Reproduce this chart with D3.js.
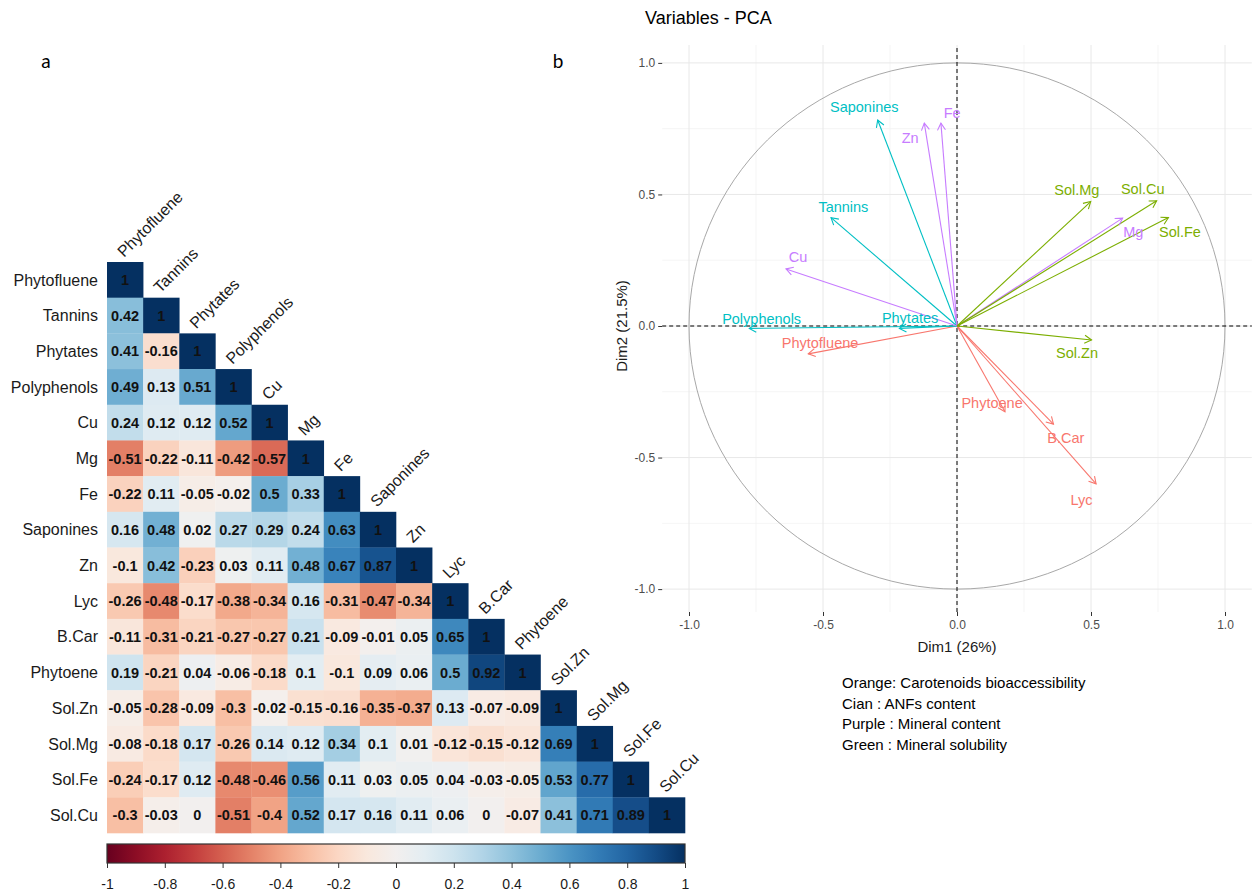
<!DOCTYPE html>
<meta charset="utf-8">
<style>
    body {
        margin: 0;
        background: #fff;
    }

    text {
        font-family: "Liberation Sans", Arial, sans-serif;
    }

    .grid-major {
        stroke: #e8e8e8;
        stroke-width: 1;
    }

    .grid-minor {
        stroke: #f2f2f2;
        stroke-width: 0.8;
    }
</style>

<body>
    <script src="https://d3js.org/d3.v7.min.js"></script>
    <script>
        // --- panel a: correlation matrix (lower triangle) ---
        var variables = ["Phytofluene", "Tannins", "Phytates", "Polyphenols", "Cu", "Mg", "Fe", "Saponines",
            "Zn", "Lyc", "B.Car", "Phytoene", "Sol.Zn", "Sol.Mg", "Sol.Fe", "Sol.Cu"];

        var corrRows = [
            [1],
            [0.42, 1],
            [0.41, -0.16, 1],
            [0.49, 0.13, 0.51, 1],
            [0.24, 0.12, 0.12, 0.52, 1],
            [-0.51, -0.22, -0.11, -0.42, -0.57, 1],
            [-0.22, 0.11, -0.05, -0.02, 0.5, 0.33, 1],
            [0.16, 0.48, 0.02, 0.27, 0.29, 0.24, 0.63, 1],
            [-0.1, 0.42, -0.23, 0.03, 0.11, 0.48, 0.67, 0.87, 1],
            [-0.26, -0.48, -0.17, -0.38, -0.34, 0.16, -0.31, -0.47, -0.34, 1],
            [-0.11, -0.31, -0.21, -0.27, -0.27, 0.21, -0.09, -0.01, 0.05, 0.65, 1],
            [0.19, -0.21, 0.04, -0.06, -0.18, 0.1, -0.1, 0.09, 0.06, 0.5, 0.92, 1],
            [-0.05, -0.28, -0.09, -0.3, -0.02, -0.15, -0.16, -0.35, -0.37, 0.13, -0.07, -0.09, 1],
            [-0.08, -0.18, 0.17, -0.26, 0.14, 0.12, 0.34, 0.1, 0.01, -0.12, -0.15, -0.12, 0.69, 1],
            [-0.24, -0.17, 0.12, -0.48, -0.46, 0.56, 0.11, 0.03, 0.05, 0.04, -0.03, -0.05, 0.53, 0.77, 1],
            [-0.3, -0.03, 0, -0.51, -0.4, 0.52, 0.17, 0.16, 0.11, 0.06, 0, -0.07, 0.41, 0.71, 0.89, 1]
        ];

        var colorbarTicks = [-1, -0.8, -0.6, -0.4, -0.2, 0, 0.2, 0.4, 0.6, 0.8, 1];

        // --- panel b: PCA variables ---
        var pcaVars = ["Phytofluene", "Lyc", "B.Car", "Phytoene",
            "Tannins", "Phytates", "Polyphenols", "Saponines",
            "Cu", "Mg", "Fe", "Zn",
            "Sol.Zn", "Sol.Mg", "Sol.Fe", "Sol.Cu"];
        var pcaGroup = [0, 0, 0, 0, 1, 1, 1, 1, 2, 2, 2, 2, 3, 3, 3, 3];
        var dim1 = [-0.555, 0.519, 0.36, 0.179,
            -0.47, -0.215, -0.775, -0.296,
            -0.638, 0.618, -0.06, -0.122,
            0.502, 0.499, 0.789, 0.745];
        var dim2 = [-0.106, -0.60, -0.373, -0.326,
            0.412, -0.009, -0.009, 0.783,
            0.217, 0.41, 0.771, 0.771,
            -0.053, 0.473, 0.412, 0.476];
        // repelled label positions, in Dim units
        var labelDim1 = [-0.511, 0.465, 0.406, 0.131,
            -0.424, -0.175, -0.729, -0.346,
            -0.593, 0.658, -0.018, -0.175,
            0.448, 0.447, 0.832, 0.693];
        var labelDim2 = [-0.065, -0.662, -0.425, -0.293,
            0.454, 0.032, 0.029, 0.832,
            0.262, 0.357, 0.811, 0.716,
            -0.103, 0.517, 0.359, 0.521];
        var groupColors = ["#F8766D", "#00BFC4", "#C77CFF", "#7CAE00"];
        var pcaTicks = [-1, -0.5, 0, 0.5, 1];

        var legendLines = ["Orange: Carotenoids bioaccessibility", "Cian : ANFs content",
            "Purple : Mineral content", "Green : Mineral solubility"];

        var width = 1257,
            height = 896

        var svg = d3.select("body").append("svg")
            .attr("width", width)
            .attr("height", height);

        var corrColor = function (v) {
            return d3.interpolateRdBu((v + 1) / 2);
        }

        // panel letters
        svg.append("text").attr("x", 46).attr("y", 68)
            .style("font-family", "Lato, 'Open Sans', sans-serif").style("font-size", "19px")
            .attr("text-anchor", "middle").text("a");
        svg.append("text").attr("x", 558).attr("y", 68)
            .style("font-family", "Lato, 'Open Sans', sans-serif").style("font-size", "19px")
            .attr("text-anchor", "middle").text("b");

        // ---------- heatmap ----------
        var xBand = d3.scaleBand().domain(variables).range([107, 685]);
        var yBand = d3.scaleBand().domain(variables).range([262, 833]);

        var cells = [];
        corrRows.forEach(function (row, i) {
            row.forEach(function (v, j) {
                cells.push({ row: variables[i], col: variables[j], value: v });
            });
        });

        var heat = svg.append("g");

        heat.selectAll(".cell")
            .data(cells)
            .enter().append("rect")
            .attr("class", "cell")
            .attr("x", function (d) { return xBand(d.col); })
            .attr("y", function (d) { return yBand(d.row); })
            .attr("width", xBand.bandwidth() + 0.3)
            .attr("height", yBand.bandwidth() + 0.3)
            .attr("fill", function (d) { return corrColor(d.value); });

        heat.selectAll(".val")
            .data(cells)
            .enter().append("text")
            .attr("class", "val")
            .attr("x", function (d) { return xBand(d.col) + xBand.bandwidth() / 2; })
            .attr("y", function (d) { return yBand(d.row) + yBand.bandwidth() / 2; })
            .attr("dy", "0.36em")
            .attr("text-anchor", "middle")
            .style("font-size", "14.5px")
            .style("font-weight", "bold")
            .style("fill", "#111")
            .text(function (d) { return String(d.value); });

        heat.selectAll(".rowlab")
            .data(variables)
            .enter().append("text")
            .attr("class", "rowlab")
            .attr("x", 98)
            .attr("y", function (d) { return yBand(d) + yBand.bandwidth() / 2; })
            .attr("dy", "0.36em")
            .attr("text-anchor", "end")
            .style("font-size", "16px")
            .style("fill", "#1a1a1a")
            .text(function (d) { return d; });

        heat.selectAll(".collab")
            .data(variables)
            .enter().append("text")
            .attr("class", "collab")
            .attr("transform", function (d) {
                return "translate(" + (xBand(d) + xBand.bandwidth() / 2 - 1) + "," + (yBand(d) - 4) + ") rotate(-45)";
            })
            .style("font-size", "16px")
            .style("fill", "#1a1a1a")
            .text(function (d) { return d; });

        // colour bar
        var cb = d3.scaleLinear().domain([-1, 1]).range([107, 685]);
        var grad = svg.append("defs").append("linearGradient")
            .attr("id", "rdbu").attr("x1", "0%").attr("x2", "100%");
        d3.range(0, 1.0001, 0.05).forEach(function (t) {
            grad.append("stop").attr("offset", (t * 100) + "%").attr("stop-color", d3.interpolateRdBu(t));
        });
        svg.append("rect")
            .attr("x", cb(-1)).attr("y", 844)
            .attr("width", cb(1) - cb(-1)).attr("height", 19)
            .attr("fill", "url(#rdbu)")
            .attr("stroke", "#333").attr("stroke-width", 1.2);

        var cbAxis = svg.append("g")
            .attr("transform", "translate(0,863)")
            .call(d3.axisBottom(cb).tickValues(colorbarTicks).tickSize(5).tickPadding(11)
                .tickFormat(function (d) { return String(+d.toFixed(1)); }));
        cbAxis.select(".domain").remove();
        cbAxis.selectAll("line").attr("stroke", "#333");
        cbAxis.selectAll("text")
            .style("font-family", "'Liberation Sans', Arial, sans-serif")
            .style("font-size", "14px").style("fill", "#1a1a1a");

        // ---------- PCA variables plot ----------
        var x = d3.scaleLinear().domain([-1.1, 1.1]).range([662.2, 1251.8]);
        var y = d3.scaleLinear().domain([-1.087, 1.068]).range([612, 45]);
        var minorTicks = d3.pairs(pcaTicks).map(function (p) { return (p[0] + p[1]) / 2; });

        var pca = svg.append("g");

        pca.selectAll(".vminor").data(minorTicks).enter().append("line")
            .attr("class", "grid-minor")
            .attr("x1", function (d) { return x(d); }).attr("x2", function (d) { return x(d); })
            .attr("y1", y.range()[0]).attr("y2", y.range()[1]);
        pca.selectAll(".hminor").data(minorTicks).enter().append("line")
            .attr("class", "grid-minor")
            .attr("y1", function (d) { return y(d); }).attr("y2", function (d) { return y(d); })
            .attr("x1", x.range()[0]).attr("x2", x.range()[1]);
        pca.selectAll(".vmajor").data(pcaTicks).enter().append("line")
            .attr("class", "grid-major")
            .attr("x1", function (d) { return x(d); }).attr("x2", function (d) { return x(d); })
            .attr("y1", y.range()[0]).attr("y2", y.range()[1]);
        pca.selectAll(".hmajor").data(pcaTicks).enter().append("line")
            .attr("class", "grid-major")
            .attr("y1", function (d) { return y(d); }).attr("y2", function (d) { return y(d); })
            .attr("x1", x.range()[0]).attr("x2", x.range()[1]);

        // unit circle
        pca.append("ellipse")
            .attr("cx", x(0)).attr("cy", y(0))
            .attr("rx", x(1) - x(0)).attr("ry", y(0) - y(1))
            .attr("fill", "none").attr("stroke", "#a8a8a8").attr("stroke-width", 1);

        // dashed reference lines
        pca.append("line")
            .attr("x1", x(0)).attr("x2", x(0)).attr("y1", y.range()[0]).attr("y2", y.range()[1])
            .attr("stroke", "#000").attr("stroke-dasharray", "4,3").attr("stroke-width", 1);
        pca.append("line")
            .attr("y1", y(0)).attr("y2", y(0)).attr("x1", x.range()[0]).attr("x2", x.range()[1])
            .attr("stroke", "#000").attr("stroke-dasharray", "4,3").attr("stroke-width", 1);

        var pts = pcaVars.map(function (name, i) {
            return { name: name, g: pcaGroup[i], d1: dim1[i], d2: dim2[i], l1: labelDim1[i], l2: labelDim2[i] };
        });

        pca.selectAll(".arrow")
            .data(pts)
            .enter().append("line")
            .attr("class", "arrow")
            .attr("x1", x(0)).attr("y1", y(0))
            .attr("x2", function (d) { return x(d.d1); })
            .attr("y2", function (d) { return y(d.d2); })
            .attr("stroke", function (d) { return groupColors[d.g]; })
            .attr("stroke-width", 1.1);

        pca.selectAll(".head")
            .data(pts)
            .enter().append("path")
            .attr("class", "head")
            .attr("d", function (d) {
                var tx = x(d.d1), ty = y(d.d2);
                var a = Math.atan2(ty - y(0), tx - x(0));
                var len = 8, spread = Math.PI / 6;
                return "M" + (tx - len * Math.cos(a - spread)) + "," + (ty - len * Math.sin(a - spread)) +
                    "L" + tx + "," + ty +
                    "L" + (tx - len * Math.cos(a + spread)) + "," + (ty - len * Math.sin(a + spread));
            })
            .attr("fill", "none")
            .attr("stroke", function (d) { return groupColors[d.g]; })
            .attr("stroke-width", 1.1);

        pca.selectAll(".plab")
            .data(pts)
            .enter().append("text")
            .attr("class", "plab")
            .attr("x", function (d) { return x(d.l1); })
            .attr("y", function (d) { return y(d.l2); })
            .attr("dy", "0.36em")
            .attr("text-anchor", "middle")
            .style("font-size", "14.5px")
            .style("fill", function (d) { return groupColors[d.g]; })
            .text(function (d) { return d.name; });

        // axes
        var yAxis = pca.append("g")
            .attr("transform", "translate(" + x.range()[0] + ",0)")
            .call(d3.axisLeft(y).tickValues(pcaTicks).tickSize(4).tickPadding(3)
                .tickFormat(function (d) { return d.toFixed(1); }));
        var xAxis = pca.append("g")
            .attr("transform", "translate(0," + y.range()[0] + ")")
            .call(d3.axisBottom(x).tickValues(pcaTicks).tickSize(4).tickPadding(4)
                .tickFormat(function (d) { return d.toFixed(1); }));
        [xAxis, yAxis].forEach(function (ax) {
            ax.select(".domain").remove();
            ax.selectAll("line").attr("stroke", "#333");
            ax.selectAll("text")
                .style("font-family", "'Liberation Sans', Arial, sans-serif")
                .style("font-size", "12px").style("fill", "#4d4d4d");
        });

        pca.append("text")
            .attr("x", x(0)).attr("y", 652)
            .attr("text-anchor", "middle")
            .style("font-size", "15px").style("fill", "#1a1a1a")
            .text("Dim1 (26%)");
        pca.append("text")
            .attr("transform", "translate(627," + y(0) + ") rotate(-90)")
            .attr("text-anchor", "middle")
            .style("font-size", "15px").style("fill", "#1a1a1a")
            .text("Dim2 (21.5%)");
        pca.append("text")
            .attr("x", 645).attr("y", 24)
            .style("font-size", "18px").style("fill", "#000")
            .text("Variables - PCA");

        // colour key text
        svg.selectAll(".key")
            .data(legendLines)
            .enter().append("text")
            .attr("class", "key")
            .attr("x", 842)
            .attr("y", function (d, i) { return 688 + i * 20.5; })
            .style("font-size", "15px")
            .style("fill", "#000")
            .text(function (d) { return d; });
    </script>
